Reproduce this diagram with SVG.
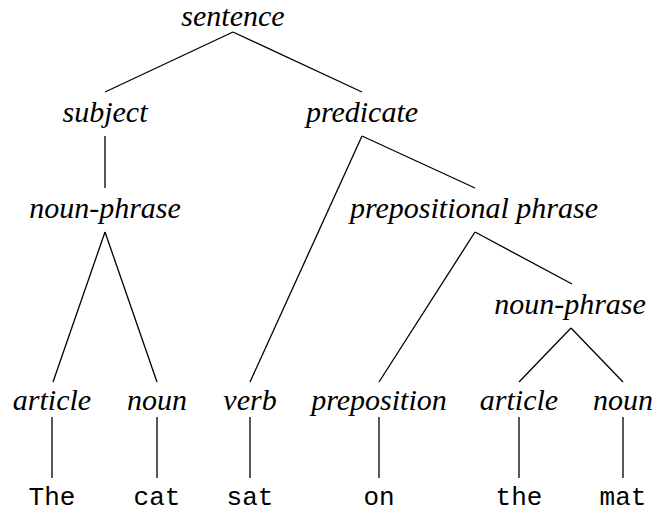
<svg xmlns="http://www.w3.org/2000/svg" width="658" height="512" viewBox="0 0 658 512">
<style>
.l{font-family:"Liberation Serif","Times New Roman","DejaVu Serif",serif;font-style:italic;font-size:30px;fill:#000;text-anchor:middle}
.w{font-family:"Liberation Mono","Courier New",monospace;font-size:26px;fill:#000;text-anchor:middle}
.c line{stroke:#000;stroke-width:1.3;fill:none}
</style>
<rect width="658" height="512" fill="#fff"/>
<g class="c" id="connectors">
<line x1="233" y1="32" x2="105" y2="92"/>
<line x1="233" y1="32" x2="362" y2="92"/>
<line x1="105" y1="136" x2="105" y2="188"/>
<line x1="105" y1="232" x2="53" y2="382"/>
<line x1="105" y1="232" x2="157" y2="382"/>
<line x1="362" y1="136" x2="250" y2="382"/>
<line x1="362" y1="136" x2="475" y2="188"/>
<line x1="475" y1="232" x2="379" y2="382"/>
<line x1="475" y1="232" x2="572" y2="284"/>
<line x1="571" y1="328" x2="519" y2="382"/>
<line x1="571" y1="328" x2="623" y2="382"/>
<line x1="52" y1="417" x2="52" y2="478"/>
<line x1="157" y1="417" x2="157" y2="478"/>
<line x1="250" y1="417" x2="250" y2="478"/>
<line x1="379" y1="417" x2="379" y2="478"/>
<line x1="519" y1="417" x2="519" y2="478"/>
<line x1="623" y1="417" x2="623" y2="478"/>
</g>
<g id="sentence"><text class="l" x="233" y="26" font-family="Liberation Serif, DejaVu Serif, serif" font-style="italic">sentence</text></g>
<g id="subject"><text class="l" x="105" y="122">subject</text></g>
<g id="predicate"><text class="l" x="362" y="122">predicate</text></g>
<g id="np1"><text class="l" x="105" y="218">noun-phrase</text></g>
<g id="pp"><text class="l" x="474" y="218">prepositional phrase</text></g>
<g id="np2"><text class="l" x="570" y="314">noun-phrase</text></g>
<g id="article1"><text class="l" x="52" y="410">article</text></g>
<g id="noun1"><text class="l" x="157" y="410">noun</text></g>
<g id="verb"><text class="l" x="250" y="410">verb</text></g>
<g id="preposition"><text class="l" x="379" y="410">preposition</text></g>
<g id="article2"><text class="l" x="519" y="410">article</text></g>
<g id="noun2"><text class="l" x="623" y="410">noun</text></g>
<g id="w1"><text class="w" x="52" y="505">The</text></g>
<g id="w2"><text class="w" x="157" y="505">cat</text></g>
<g id="w3"><text class="w" x="250" y="505">sat</text></g>
<g id="w4"><text class="w" x="379" y="505">on</text></g>
<g id="w5"><text class="w" x="519" y="505">the</text></g>
<g id="w6"><text class="w" x="623" y="505">mat</text></g>
</svg>
